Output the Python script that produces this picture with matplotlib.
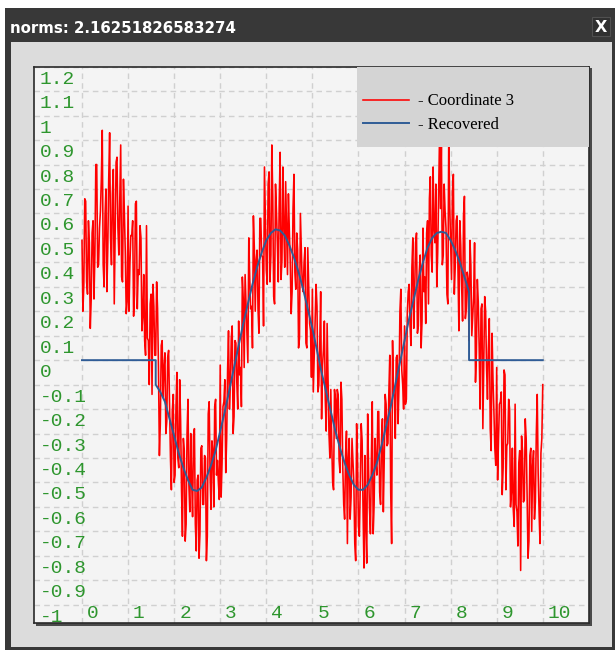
import numpy as np
import matplotlib
matplotlib.use("Agg")
import matplotlib.pyplot as plt
from matplotlib.patches import Rectangle
from matplotlib.colors import LinearSegmentedColormap
from matplotlib.transforms import blended_transform_factory, offset_copy

# window title
title = "norms: 2.16251826583274"
series_labels = ["- Coordinate 3", "- Recovered"]

# noisy signal, sampled evenly from x_start to x_stop (step 0.02)
x_start, x_stop = 0.0, 10.0
coord3 = [
    0.49, 0.20, 0.31, 0.66, 0.65, 0.32, 0.27, 0.57, 0.48, 0.13,
    0.25, 0.52, 0.57, 0.25, 0.43, 0.80, 0.80, 0.38, 0.39, 0.54,
    0.61, 0.74, 0.94, 0.39, 0.30, 0.59, 0.70, 0.28, 0.46, 0.74,
    0.93, 0.50, 0.39, 0.68, 0.78, 0.23, 0.51, 0.81, 0.83, 0.54,
    0.43, 0.65, 0.88, 0.34, 0.32, 0.74, 0.60, 0.44, 0.19, 0.24,
    0.63, 0.20, 0.39, 0.51, 0.51, 0.57, 0.18, 0.27, 0.64, 0.65,
    0.21, 0.37, 0.35, 0.55, 0.50, 0.12, 0.18, 0.35, 0.08, 0.02,
    0.55, 0.09, 0.08, -0.10, 0.23, 0.27, -0.14, 0.31, 0.22, 0.02,
    0.02, 0.32, 0.21, -0.03, -0.39, -0.26, 0.06, 0.08, -0.15, -0.03,
    0.03, -0.30, -0.25, 0.01, 0.04, -0.19, -0.40, -0.53, -0.21, -0.14,
    -0.50, -0.47, -0.19, -0.05, -0.40, -0.44, -0.08, -0.24, -0.53, -0.72,
    -0.32, -0.37, -0.74, -0.67, -0.30, -0.16, -0.51, -0.62, -0.30, -0.49,
    -0.64, -0.31, -0.28, -0.67, -0.78, -0.49, -0.47, -0.81, -0.71, -0.36,
    -0.35, -0.59, -0.59, -0.39, -0.40, -0.82, -0.72, -0.22, -0.17, -0.47,
    -0.61, -0.33, -0.37, -0.60, -0.19, -0.16, -0.47, -0.41, -0.50, -0.57,
    -0.02, -0.56, -0.42, -0.19, -0.17, -0.08, -0.46, -0.32, -0.04, 0.12,
    -0.20, -0.10, 0.09, 0.14, -0.30, -0.23, 0.08, 0.07, -0.09, -0.20,
    0.16, -0.06, -0.03, -0.19, 0.34, 0.25, -0.03, 0.35, 0.23, 0.12,
    -0.01, 0.50, 0.34, 0.21, 0.22, 0.05, 0.59, 0.46, 0.20, 0.41,
    0.45, 0.21, 0.11, 0.58, 0.58, 0.43, 0.42, 0.14, 0.79, 0.59,
    0.37, 0.31, 0.72, 0.77, 0.32, 0.43, 0.88, 0.67, 0.26, 0.23,
    0.72, 0.61, 0.48, 0.32, 0.64, 0.85, 0.33, 0.41, 0.79, 0.55,
    0.38, 0.73, 0.55, 0.35, 0.68, 0.53, 0.40, 0.19, 0.28, 0.62,
    0.76, 0.36, 0.29, 0.52, 0.45, 0.05, 0.09, 0.60, 0.46, 0.31,
    0.28, 0.40, 0.46, 0.07, 0.05, 0.46, 0.31, 0.15, 0.12, -0.07,
    0.29, -0.13, 0.02, 0.18, 0.31, 0.22, -0.13, -0.10, 0.06, 0.28,
    -0.24, -0.02, 0.04, 0.16, -0.16, -0.29, 0.15, -0.07, -0.30, -0.40,
    -0.12, -0.34, -0.50, -0.53, -0.12, -0.16, -0.32, -0.12, -0.14, -0.41,
    -0.46, -0.09, -0.16, -0.44, -0.59, -0.65, -0.39, -0.29, -0.75, -0.40,
    -0.32, -0.65, -0.56, -0.32, -0.41, -0.50, -0.75, -0.82, -0.26, -0.41,
    -0.68, -0.72, -0.51, -0.26, -0.33, -0.62, -0.85, -0.39, -0.69, -0.83,
    -0.22, -0.45, -0.61, -0.71, -0.41, -0.17, -0.71, -0.59, -0.32, -0.42,
    -0.47, -0.21, -0.21, -0.54, -0.59, -0.33, -0.24, -0.62, -0.40, -0.14,
    -0.18, -0.35, -0.34, -0.13, 0.02, -0.54, -0.75, 0.08, -0.11, -0.15,
    -0.32, 0.01, 0.02, -0.26, -0.10, 0.20, 0.29, -0.04, -0.10, -0.20,
    0.14, -0.18, -0.16, 0.19, 0.28, 0.31, 0.14, 0.06, 0.38, 0.50,
    0.13, 0.28, 0.48, 0.52, 0.11, 0.14, 0.36, 0.43, 0.05, 0.16,
    0.54, 0.28, 0.34, 0.15, 0.52, 0.57, 0.23, 0.66, 0.75, 0.43,
    0.36, 0.79, 0.54, 0.48, 0.72, 0.30, 0.44, 0.69, 0.92, 0.62,
    0.88, 0.39, 0.43, 0.72, 0.61, 0.54, 0.27, 0.23, 0.93, 0.64,
    0.48, 0.33, 0.69, 0.76, 0.27, 0.38, 0.57, 0.59, 0.37, 0.12,
    0.57, 0.47, 0.30, 0.16, 0.59, 0.67, 0.17, 0.21, 0.36, 0.33,
    0.08, 0.49, 0.39, 0.10, 0.18, 0.26, 0.48, -0.09, 0.03, 0.33,
    0.24, 0.05, -0.20, 0.21, 0.23, -0.28, 0.00, 0.26, 0.20, -0.03,
    -0.16, 0.05, 0.17, -0.28, -0.37, 0.11, -0.08, -0.21, -0.36, -0.43,
    -0.03, -0.49, -0.32, -0.18, -0.17, -0.13, -0.55, -0.44, -0.04, -0.06,
    -0.53, -0.35, -0.34, -0.16, -0.20, -0.60, -0.54, -0.36, -0.61, -0.68,
    -0.18, -0.59, -0.62, -0.76, -0.42, -0.37, -0.86, -0.31, -0.37, -0.58,
    -0.57, -0.24, -0.32, -0.55, -0.81, -0.74, -0.39, -0.36, -0.70, -0.43,
    -0.37, -0.65, -0.58, -0.30, -0.14, -0.46, -0.62, -0.75, -0.38, -0.32,
    -0.10,
]

# recovered curve: zero outside [rec_start, rec_stop], sampled every 0.1 inside
rec_start, rec_stop = 1.6, 8.4
rec_curve = [
    -0.10, -0.13, -0.17, -0.24, -0.31, -0.38, -0.44, -0.49, -0.53, -0.535,
    -0.52, -0.48, -0.43, -0.37, -0.29, -0.21, -0.12, -0.03, 0.06, 0.15,
    0.23, 0.31, 0.38, 0.44, 0.49, 0.52, 0.535, 0.53, 0.51, 0.47,
    0.42, 0.36, 0.29, 0.21, 0.13, 0.04, -0.05, -0.13, -0.21, -0.29,
    -0.36, -0.42, -0.47, -0.51, -0.53, -0.53, -0.51, -0.47, -0.42, -0.35,
    -0.27, -0.19, -0.10, -0.01, 0.08, 0.17, 0.25, 0.33, 0.40, 0.46,
    0.50, 0.52, 0.525, 0.52, 0.49, 0.45, 0.40, 0.34, 0.28,
]

x_ticks = list(range(0, 11))
y_ticks = [1.2, 1.1, 1.0, 0.9, 0.8, 0.7, 0.6, 0.5, 0.4, 0.3, 0.2, 0.1, 0.0,
           -0.1, -0.2, -0.3, -0.4, -0.5, -0.6, -0.7, -0.8, -0.9, -1.0]
y_tick_labels = ["1.2", "1.1", "1", "0.9", "0.8", "0.7", "0.6", "0.5", "0.4", "0.3",
                 "0.2", "0.1", "0", "-0.1", "-0.2", "-0.3", "-0.4", "-0.5", "-0.6",
                 "-0.7", "-0.8", "-0.9", "-1"]

x_coord = np.linspace(x_start, x_stop, len(coord3))
x_rec = np.concatenate([[x_start, rec_start],
                        np.linspace(rec_start, rec_stop, len(rec_curve)),
                        [rec_stop, x_stop]])
y_rec = np.concatenate([[0.0, 0.0], rec_curve, [0.0, 0.0]])

W, H = 615, 650
fig = plt.figure(figsize=(W / 100, H / 100), dpi=100)
fig.patch.set_facecolor("white")

# window chrome, drawn in pixel units
bg = fig.add_axes([0, 0, 1, 1])
bg.set_xlim(0, W)
bg.set_ylim(H, 0)
bg.axis("off")
bg.add_patch(Rectangle((5, 8), 610, 642, color="#383838", lw=0))
bar_cmap = LinearSegmentedColormap.from_list("bar", ["#626262", "#3a3a3a", "#262626", "#1c1c1c"])
bg.imshow(np.linspace(0, 1, 50).reshape(-1, 1), cmap=bar_cmap, extent=(5, 615, 42, 8),
          aspect="auto", interpolation="bilinear")
bg.add_patch(Rectangle((11, 42), 601, 605, color="#dcdcdc", lw=0))
bg.add_patch(Rectangle((36, 68), 555.5, 557.5, color="#4a4a4a", lw=0))
bg.add_patch(Rectangle((591.5, 17), 18, 19, facecolor="#303030", edgecolor="#505050", lw=0.8))
bg.text(10, 28.5, title, color="white", fontsize=10.8, fontweight="bold",
        family="DejaVu Sans", ha="left", va="center")
bg.text(600.5, 27, "X", color="white", fontsize=11.5, fontweight="bold",
        family="DejaVu Sans", ha="center", va="center")
bg.set_xlim(0, W)
bg.set_ylim(H, 0)

ax = fig.add_axes([34.3 / W, 1 - 623.3 / H, 555 / W, 556.6 / H])
ax.set_facecolor("#f4f4f4")
ax.plot(x_coord, coord3, color="#ff0000", lw=1.15, zorder=2, label=series_labels[0])
ax.plot(x_rec, y_rec, color="#2f5c96", lw=1.4, zorder=3, label=series_labels[1])
ax.set_xlim(-1.035, 11.01)
ax.set_ylim(-1.076, 1.178)
ax.set_xticks(x_ticks)
ax.set_yticks(y_ticks)
ax.tick_params(length=0, labelbottom=False, labelleft=False)
ax.grid(True, color="#d0d0d0", linestyle=(0, (4, 3)), linewidth=1)
ax.set_axisbelow(True)
for sp in ax.spines.values():
    sp.set_color("#2a2a2a")
    sp.set_linewidth(1.2)

green = "#2e962e"
ytrans = blended_transform_factory(ax.transAxes, ax.transData)
for v, lab in zip(y_ticks, y_tick_labels):
    ax.text(0, v, lab, transform=offset_copy(ytrans, fig=fig, x=5.5, y=-4, units="dots"),
            ha="left", va="top", color=green, fontsize=14, family="Liberation Mono",
            clip_on=True, zorder=6)
xtrans = blended_transform_factory(ax.transData, ax.transAxes)
for v in x_ticks:
    ax.text(v, 0, str(v), transform=offset_copy(xtrans, fig=fig, x=5, y=5, units="dots"),
            ha="left", va="baseline", color=green, fontsize=14, family="Liberation Mono",
            clip_on=True, zorder=6)

# legend box
ax.add_patch(Rectangle((0.581, 0.8557), 0.419, 0.1443, transform=ax.transAxes,
                       facecolor="#d4d4d4", edgecolor="none", zorder=4))
ax.legend(loc="upper left", bbox_to_anchor=(0.592, 0.952), frameon=False,
          borderpad=0, borderaxespad=0, handlelength=2.75, handletextpad=0.55,
          labelspacing=0.45, prop={"family": "Liberation Serif", "size": 12})

fig.savefig("out.png", dpi=100, facecolor=fig.get_facecolor())
